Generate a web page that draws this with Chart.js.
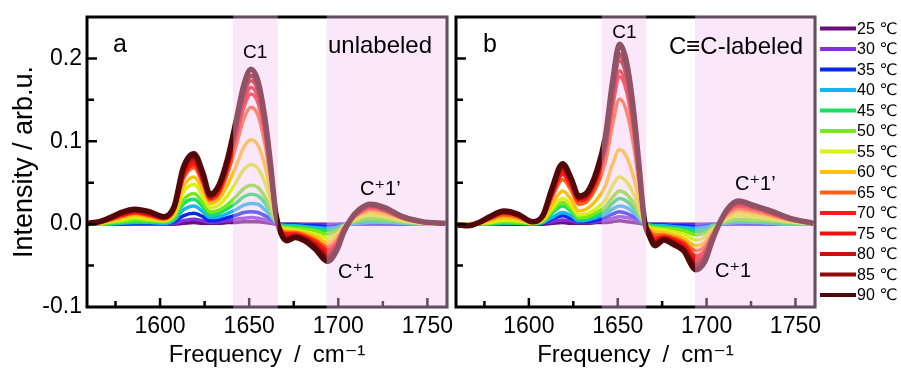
<!DOCTYPE html>
<html>
<head>
<meta charset="utf-8">
<script src="https://cdn.jsdelivr.net/npm/chart.js@4.4.1/dist/chart.umd.min.js"></script>
<style>
  html, body { margin: 0; padding: 0; background: #fff; overflow: hidden; }
  #wrap { position: relative; width: 901px; height: 372px; }
  canvas { position: absolute; top: 0; }
  #ca { left: 0; }
  #cb { left: 452px; }
</style>
</head>
<body>
<div id="wrap">
  <canvas id="ca" width="452" height="372"></canvas>
  <canvas id="cb" width="449" height="372"></canvas>
</div>
<script>
// ---------------- data ----------------
const FREQ = [1560, 1566, 1572, 1578, 1586, 1594, 1602, 1608, 1613, 1619, 1624, 1628, 1633, 1638, 1643, 1647, 1651, 1655, 1659, 1662, 1665, 1668, 1671, 1676, 1681, 1687, 1694, 1699, 1703, 1707, 1712, 1718, 1726, 1736, 1747, 1760];
const TEMPS = ['25 \u2103', '30 \u2103', '35 \u2103', '40 \u2103', '45 \u2103', '50 \u2103', '55 \u2103', '60 \u2103', '65 \u2103', '70 \u2103', '75 \u2103', '80 \u2103', '85 \u2103', '90 \u2103'];
const COLORS = ['#6b0f7a', '#8230e0', '#0a28e8', '#18b4f0', '#18e060', '#78e818', '#d8f018', '#ffc010', '#ff6018', '#ff1a1a', '#f21010', '#cc1010', '#8e0c0c', '#520808'];

const X_TICK_LABELS = [1600, 1650, 1700, 1750];
const Y_TICK_LABELS = [-0.1, 0.0, 0.1, 0.2];
const X_MARKS = [1575, 1600, 1625, 1650, 1675, 1700, 1725, 1750];
const Y_MARKS = [-0.05, 0, 0.05, 0.1, 0.15, 0.2];
const SHADES = [[1641, 1666], [1693.5, 1761]];

// panel a (unlabeled)
const A25 = [0,0,0,0,0,0,0,0,0.001,0.002, 0.001,0.001,0.001,0.002,0.002,0.003,0.003,0.003,0.002,0.001, 0,0,0,0,0,0,0,0,0,0, 0,0,0,0,0,0];
const A30 = [0,0,0,0,0,0,0,0.001,0.004,0.006, 0.004,0.002,0.003,0.004,0.006,0.007,0.008,0.007,0.005,0.003, 0,0,0,0,-0.001,-0.001,-0.001,-0.001,0,0, 0,0,0,0,0,0];
const A35 = [0,0,0,0,0.001,0.001,0.001,0.003,0.01,0.013, 0.009,0.004,0.005,0.008,0.011,0.014,0.015,0.014,0.01,0.006, 0.001,-0.001,-0.001,-0.001,-0.002,-0.002,-0.003,-0.002,-0.001,0, 0.001,0.001,0.001,0,0,0];
const A40 = [0,0,0,0.001,0.002,0.002,0.001,0.005,0.017,0.022, 0.015,0.008,0.009,0.013,0.018,0.023,0.025,0.024,0.017,0.01, 0.002,-0.001,-0.002,-0.002,-0.003,-0.004,-0.005,-0.004,-0.001,0, 0.001,0.002,0.002,0.001,0,0];
const A45 = [0,0,0.001,0.002,0.003,0.003,0.002,0.007,0.024,0.03, 0.021,0.011,0.013,0.019,0.026,0.033,0.036,0.034,0.025,0.014, 0.002,-0.002,-0.003,-0.003,-0.004,-0.006,-0.008,-0.006,-0.002,0.001, 0.003,0.004,0.003,0.002,0.001,0];
const A50 = [0,0,0.002,0.003,0.005,0.004,0.003,0.009,0.029,0.037, 0.026,0.015,0.017,0.024,0.034,0.043,0.047,0.044,0.032,0.018, 0.003,-0.003,-0.004,-0.005,-0.006,-0.008,-0.012,-0.008,-0.002,0.002, 0.005,0.007,0.006,0.003,0.001,0];
const A55 = [0,0.001,0.003,0.005,0.008,0.006,0.004,0.012,0.038,0.048, 0.034,0.02,0.023,0.035,0.052,0.066,0.072,0.067,0.049,0.028, 0.005,-0.004,-0.006,-0.007,-0.009,-0.012,-0.017,-0.012,-0.003,0.003, 0.008,0.011,0.009,0.004,0.001,0];
const A60 = [0,0.001,0.004,0.007,0.011,0.008,0.005,0.014,0.045,0.057, 0.041,0.025,0.03,0.048,0.072,0.093,0.102,0.095,0.069,0.04, 0.007,-0.005,-0.008,-0.009,-0.011,-0.015,-0.022,-0.016,-0.004,0.004, 0.011,0.015,0.012,0.006,0.002,0.001];
const A65 = [0.001,0.002,0.005,0.009,0.013,0.01,0.006,0.017,0.054,0.068, 0.049,0.029,0.036,0.062,0.097,0.127,0.141,0.131,0.095,0.055, 0.009,-0.007,-0.01,-0.01,-0.013,-0.019,-0.027,-0.02,-0.005,0.005, 0.013,0.018,0.015,0.007,0.002,0.001];
const A70 = [0.001,0.002,0.006,0.01,0.014,0.011,0.007,0.018,0.057,0.072, 0.052,0.031,0.039,0.068,0.107,0.141,0.157,0.146,0.106,0.061, 0.01,-0.008,-0.012,-0.012,-0.015,-0.021,-0.031,-0.023,-0.006,0.006, 0.014,0.02,0.016,0.008,0.003,0.001];
const A75 = [0.001,0.002,0.006,0.011,0.015,0.012,0.008,0.019,0.06,0.076, 0.054,0.032,0.041,0.071,0.113,0.148,0.165,0.153,0.111,0.064, 0.01,-0.009,-0.014,-0.013,-0.016,-0.023,-0.034,-0.025,-0.007,0.006, 0.015,0.021,0.017,0.008,0.003,0.001];
const A80 = [0.001,0.003,0.007,0.012,0.016,0.013,0.008,0.02,0.062,0.079, 0.056,0.033,0.043,0.074,0.118,0.155,0.173,0.16,0.116,0.067, 0.011,-0.01,-0.016,-0.014,-0.017,-0.025,-0.037,-0.027,-0.008,0.006, 0.016,0.022,0.018,0.008,0.003,0.001];
const A85 = [0.001,0.003,0.007,0.013,0.017,0.014,0.009,0.021,0.065,0.082, 0.058,0.034,0.045,0.077,0.122,0.16,0.179,0.165,0.12,0.069, 0.011,-0.011,-0.018,-0.015,-0.018,-0.027,-0.04,-0.029,-0.009,0.006, 0.017,0.023,0.019,0.009,0.003,0.001];
const A90 = [0.001,0.003,0.008,0.014,0.018,0.015,0.009,0.022,0.068,0.085, 0.062,0.036,0.047,0.08,0.128,0.168,0.187,0.172,0.125,0.072, 0.012,-0.012,-0.02,-0.016,-0.02,-0.03,-0.045,-0.032,-0.01,0.006, 0.018,0.024,0.02,0.009,0.003,0.001];

// panel b (C≡C-labeled)
const B25 = [0,0,0,0,0,0,0,0,0.001,0.002, 0.001,0.001,0.001,0.002,0.002,0.003,0.004,0.003,0.002,0.001, 0,0,0,0,0,0,0,0,0,0, 0,0,0,0,0,0];
const B30 = [0,0,0,0,0,0,0,0.001,0.003,0.005, 0.004,0.002,0.002,0.003,0.005,0.007,0.009,0.008,0.006,0.003, 0,0,0,0,-0.001,-0.001,-0.001,-0.001,0,0, 0,0,0,0,0,0];
const B35 = [0,0,0,0,0,0,0,0.001,0.006,0.01, 0.007,0.003,0.003,0.005,0.008,0.012,0.015,0.013,0.009,0.005, 0,-0.001,-0.001,-0.001,-0.002,-0.002,-0.003,-0.002,-0.001,0, 0.001,0.001,0.001,0,0,0];
const B40 = [0,0,0,0,0.001,0.001,0,0.002,0.008,0.014, 0.01,0.004,0.005,0.008,0.012,0.018,0.022,0.02,0.014,0.007, 0,-0.001,-0.002,-0.002,-0.003,-0.004,-0.005,-0.004,-0.002,0, 0.001,0.002,0.002,0.001,0,0];
const B45 = [0,0,0,0.001,0.002,0.001,0.001,0.003,0.013,0.022, 0.015,0.006,0.007,0.011,0.016,0.025,0.031,0.028,0.019,0.01, 0.001,-0.002,-0.003,-0.004,-0.005,-0.006,-0.009,-0.008,-0.003,0, 0.003,0.004,0.003,0.002,0.001,0];
const B50 = [0,0,0,0.001,0.003,0.002,0.001,0.004,0.016,0.026, 0.018,0.008,0.009,0.014,0.021,0.032,0.04,0.036,0.025,0.013, 0.001,-0.003,-0.004,-0.005,-0.006,-0.008,-0.013,-0.011,-0.005,0, 0.004,0.006,0.005,0.004,0.002,0];
const B55 = [0,0,0.001,0.002,0.005,0.004,0.001,0.005,0.019,0.031, 0.022,0.011,0.013,0.019,0.029,0.046,0.057,0.051,0.036,0.019, 0.001,-0.004,-0.006,-0.007,-0.009,-0.012,-0.019,-0.016,-0.007,0, 0.007,0.01,0.009,0.006,0.003,0];
const B60 = [0,0,0.001,0.004,0.008,0.006,0.002,0.006,0.024,0.04, 0.029,0.016,0.019,0.029,0.046,0.072,0.09,0.081,0.056,0.029, 0.002,-0.005,-0.009,-0.01,-0.013,-0.017,-0.026,-0.022,-0.01,0, 0.01,0.015,0.013,0.009,0.004,0.001];
const B65 = [0,-0.001,0.001,0.006,0.011,0.008,0.002,0.008,0.032,0.054, 0.04,0.024,0.028,0.045,0.074,0.119,0.151,0.136,0.094,0.049, 0.004,-0.008,-0.013,-0.013,-0.016,-0.021,-0.032,-0.027,-0.013,0, 0.013,0.019,0.016,0.011,0.005,0.001];
const B70 = [-0.001,-0.001,0.002,0.007,0.013,0.01,0.003,0.009,0.035,0.06, 0.045,0.028,0.032,0.052,0.086,0.14,0.178,0.16,0.11,0.058, 0.004,-0.01,-0.017,-0.015,-0.018,-0.024,-0.038,-0.032,-0.015,0, 0.015,0.022,0.019,0.013,0.006,0.001];
const B75 = [-0.001,-0.001,0.002,0.008,0.014,0.01,0.003,0.01,0.037,0.064, 0.048,0.03,0.034,0.055,0.09,0.146,0.185,0.166,0.115,0.06, 0.004,-0.011,-0.019,-0.016,-0.019,-0.026,-0.042,-0.035,-0.016,0, 0.016,0.023,0.02,0.013,0.006,0.001];
const B80 = [-0.001,-0.002,0.002,0.008,0.015,0.011,0.003,0.01,0.039,0.067, 0.05,0.031,0.036,0.058,0.095,0.155,0.197,0.177,0.122,0.064, 0.005,-0.012,-0.021,-0.017,-0.021,-0.028,-0.046,-0.038,-0.018,0, 0.017,0.025,0.021,0.014,0.006,0.001];
const B85 = [-0.001,-0.002,0.002,0.008,0.015,0.011,0.003,0.011,0.041,0.07, 0.052,0.032,0.037,0.06,0.099,0.161,0.205,0.184,0.127,0.066, 0.005,-0.013,-0.023,-0.018,-0.022,-0.03,-0.05,-0.041,-0.019,0, 0.018,0.026,0.022,0.015,0.007,0.001];
const B90 = [-0.001,-0.002,0.002,0.009,0.016,0.012,0.003,0.011,0.043,0.073, 0.054,0.034,0.039,0.063,0.105,0.17,0.217,0.195,0.135,0.07, 0.005,-0.015,-0.026,-0.019,-0.024,-0.032,-0.055,-0.045,-0.021,0, 0.019,0.028,0.023,0.016,0.007,0.001];

const SERIES_A = [A25, A30, A35, A40, A45, A50, A55, A60, A65, A70, A75, A80, A85, A90];
const SERIES_B = [B25, B30, B35, B40, B45, B50, B55, B60, B65, B70, B75, B80, B85, B90];

const NOTES_A = [
  { t: 'a', x: 1573.6, y: 0.208, align: 'left', size: 25 },
  { t: 'unlabeled', x: 1694.2, y: 0.207, align: 'left', size: 24 },
  { t: 'C1', x: 1653.3, y: 0.200, align: 'center', size: 19 },
  { t: 'C\u207A1\u2019', x: 1712.2, y: 0.035, align: 'left', size: 20 },
  { t: 'C\u207A1', x: 1699.9, y: -0.065, align: 'left', size: 20 }
];
const NOTES_B = [
  { t: 'b', x: 1574.2, y: 0.208, align: 'left', size: 25 },
  { t: 'C\u2261C-labeled', x: 1754.3, y: 0.205, align: 'right', size: 24 },
  { t: 'C1', x: 1653.8, y: 0.225, align: 'center', size: 19 },
  { t: 'C\u207A1\u2019', x: 1716, y: 0.041, align: 'left', size: 20 },
  { t: 'C\u207A1', x: 1704.8, y: -0.064, align: 'left', size: 20 }
];

// ---------------- rendering ----------------
const FONT = '"Liberation Sans", Arial, "DejaVu Sans", sans-serif';
const SHADE_COLOR = 'rgba(242,195,242,0.40)';

function buildDatasets(series) {
  return series.map((arr, i) => ({
    label: TEMPS[i],
    data: FREQ.map((f, k) => ({ x: f, y: arr[k] })),
    borderColor: COLORS[i],
    backgroundColor: COLORS[i],
    borderWidth: i === 13 ? 5.5 : (i === 12 ? 4.5 : 3.5),
    pointRadius: 0,
    fill: false,
    cubicInterpolationMode: 'monotone',
    order: 13 - i
  }));
}

const decoPlugin = {
  id: 'deco',
  afterDatasetsDraw(chart) {
    const { ctx, chartArea: ca, scales: { x, y } } = chart;
    const o = chart.options.plugins.deco;
    ctx.save();
    // frame
    ctx.strokeStyle = '#000';
    ctx.lineWidth = 3;
    ctx.strokeRect(ca.left, ca.top, ca.right - ca.left, ca.bottom - ca.top);
    // inward tick marks
    ctx.lineWidth = 2.5;
    ctx.beginPath();
    X_MARKS.forEach(v => {
      const px = x.getPixelForValue(v);
      const len = (v % 50 === 0) ? 9 : 6;
      ctx.moveTo(px, ca.bottom);
      ctx.lineTo(px, ca.bottom - len);
    });
    Y_MARKS.forEach(v => {
      const py = y.getPixelForValue(v);
      const major = Math.abs(v * 10 - Math.round(v * 10)) < 1e-6;
      const len = major ? 10 : 7;
      ctx.moveTo(ca.left, py);
      ctx.lineTo(ca.left + len, py);
    });
    ctx.stroke();
    // shaded regions (overlay)
    ctx.fillStyle = SHADE_COLOR;
    SHADES.forEach(([a, b]) => {
      const x0 = x.getPixelForValue(a);
      const x1 = b >= x.max ? ca.right + 2 : x.getPixelForValue(b);
      ctx.fillRect(x0, ca.top - 2, x1 - x0, ca.bottom - ca.top + 4);
    });
    // annotations
    ctx.fillStyle = '#000';
    ctx.textBaseline = 'alphabetic';
    o.notes.forEach(n => {
      ctx.font = n.size + 'px ' + FONT;
      ctx.textAlign = n.align;
      ctx.fillText(n.t, x.getPixelForValue(n.x), y.getPixelForValue(n.y));
    });
    // legend
    if (o.legend) {
      const lg = o.legend;
      chart.data.datasets.forEach((ds, i) => {
        const cy = lg.top + i * lg.step;
        ctx.strokeStyle = ds.borderColor;
        ctx.lineWidth = 4;
        ctx.beginPath();
        ctx.moveTo(lg.x0, cy);
        ctx.lineTo(lg.x1, cy);
        ctx.stroke();
        ctx.fillStyle = '#000';
        ctx.font = '16px ' + FONT;
        ctx.textAlign = 'left';
        ctx.textBaseline = 'middle';
        ctx.fillText(ds.label, lg.x1 + 1, cy + 1);
      });
    }
    ctx.restore();
  }
};

function zeroPad(s) {
  s.paddingLeft = 0; s.paddingRight = 0; s.paddingTop = 0; s.paddingBottom = 0;
}

function makeChart(id, series, notes, showY, padRight, legend) {
  return new Chart(document.getElementById(id), {
    type: 'line',
    data: { datasets: buildDatasets(series) },
    plugins: [decoPlugin],
    options: {
      responsive: false,
      devicePixelRatio: 1,
      animation: false,
      events: [],
      layout: { padding: { left: 0, right: padRight, top: 17, bottom: 0 } },
      plugins: {
        legend: { display: false },
        tooltip: { enabled: false },
        deco: { notes: notes, legend: legend }
      },
      scales: {
        x: {
          type: 'linear',
          min: 1559, max: 1761,
          grid: { display: false, drawTicks: false },
          border: { display: false },
          afterBuildTicks: s => { s.ticks = X_TICK_LABELS.map(v => ({ value: v })); },
          ticks: {
            autoSkip: false,
            maxRotation: 0,
            padding: 6,
            color: '#000',
            font: { family: FONT, size: 23 },
            callback: v => String(v)
          },
          title: {
            display: true,
            text: 'Frequency\u2002/\u2002cm\u207B\u00B9',
            color: '#000',
            font: { family: FONT, size: 24 },
            padding: { top: 0, bottom: 2 }
          },
          afterFit: s => { s.height = 65; zeroPad(s); }
        },
        y: {
          type: 'linear',
          min: -0.1, max: 0.25,
          grid: { display: false, drawTicks: false },
          border: { display: false },
          afterBuildTicks: s => { s.ticks = Y_TICK_LABELS.map(v => ({ value: v })); },
          ticks: {
            display: showY,
            autoSkip: false,
            padding: 5,
            color: '#000',
            font: { family: FONT, size: 23 },
            callback: v => v.toFixed(1)
          },
          title: {
            display: showY,
            text: 'Intensity / arb.u.',
            color: '#000',
            font: { family: FONT, size: 27 },
            padding: { top: 8, bottom: 0 }
          },
          afterFit: s => { s.width = showY ? 87 : 4; zeroPad(s); }
        }
      }
    }
  });
}

makeChart('ca', SERIES_A, NOTES_A, true, 5, null);
makeChart('cb', SERIES_B, NOTES_B, false, 86, { x0: 368, x1: 404, top: 28.5, step: 20.5 });
</script>
</body>
</html>
